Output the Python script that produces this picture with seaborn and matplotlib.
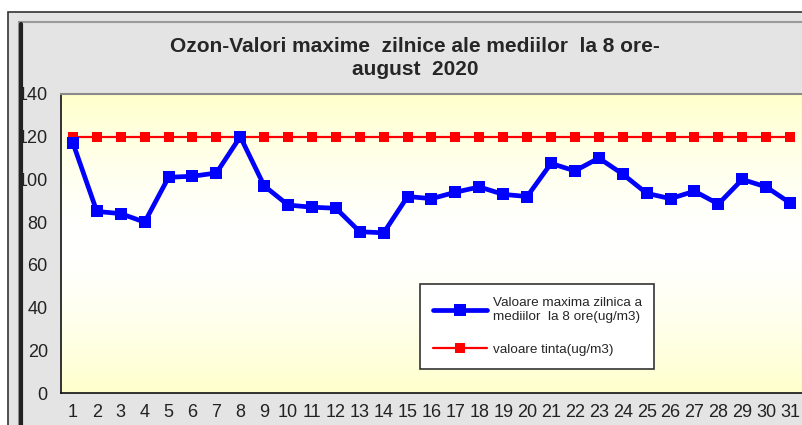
import numpy as np
import matplotlib
matplotlib.use("Agg")
import matplotlib.pyplot as plt
from matplotlib.patches import Rectangle
from matplotlib.lines import Line2D
import seaborn as sns

# data
days = list(range(1, 32))
ozon_max = [117, 85, 84, 80, 101, 101.5, 103, 120, 97, 88, 87, 86.5, 75.5, 75,
            92, 91, 94, 96.5, 93, 92, 107.5, 104, 110, 102.5, 93.5, 91, 94.5,
            88.5, 100, 96.5, 89]
valoare_tinta = [120] * 31

title = "Ozon-Valori maxime  zilnice ale mediilor  la 8 ore-\naugust  2020"
label_max = "Valoare maxima zilnica a\nmediilor  la 8 ore(ug/m3)"
label_tinta = "valoare tinta(ug/m3)"

sns.set_style("white")
plt.rcParams['font.family'] = ['Liberation Sans', 'DejaVu Sans']

W, H = 803, 425
fig = plt.figure(figsize=(W / 100, H / 100), dpi=100)
fig.patch.set_facecolor("white")

# chart frame (excel style)
def px(x, y, w, h):
    return (x / W, 1 - (y + h) / H, w / W, h / H)

x0, y0, w0, h0 = px(8, 12, 800, 420)
fig.patches.append(Rectangle((x0, y0), w0, h0, transform=fig.transFigure,
                             facecolor="#e4e4e4", edgecolor="#333333", lw=1.2, zorder=-10))
x1, y1, w1, h1 = px(19, 22, 790, 410)
fig.patches.append(Rectangle((x1, y1), w1, h1, transform=fig.transFigure,
                             facecolor="#e4e4e4", edgecolor="#9a9a9a", lw=1.5, zorder=-9))
fig.add_artist(Line2D([21 / W, 21 / W], [0, 1 - 24 / H], transform=fig.transFigure,
                      color="#222222", lw=3, zorder=-8))

fig.text(415 / W, 1 - 58 / H, title, ha="center", va="center", fontsize=15,
         fontweight="bold", linespacing=1.3)

ax = fig.add_axes([61 / W, 1 - 393 / H, 741 / W, 299 / H])

# pale yellow gradient background
grad = np.linspace(0, 1, 256)
alpha = np.abs(grad - 0.5) * 2
alpha = alpha ** 1.5
rgba = np.ones((256, 1, 4))
rgba[:, 0, 2] = 1 - 0.2 * alpha
ax.imshow(rgba, extent=[0, 1, 0, 1], transform=ax.transAxes, aspect="auto",
          zorder=0, interpolation="bilinear")

sns.lineplot(x=days, y=ozon_max, ax=ax, color="#0000ff", lw=3.4, marker="s",
             markersize=8.5, markeredgewidth=0, label=label_max, zorder=3)
sns.lineplot(x=days, y=valoare_tinta, ax=ax, color="#ff0000", lw=1.6, marker="s",
             markersize=7.5, markeredgewidth=0, label=label_tinta, zorder=2)

ax.set_xlim(0.5, 31.5)
ax.set_ylim(0, 140)
ax.set_yticks(range(0, 141, 20))
ax.set_xticks(days)
ax.set_xticks(np.arange(0.5, 32, 1), minor=True)
ax.tick_params(axis="x", which="major", length=0, labelsize=13, pad=8, colors="#222222")
ax.tick_params(axis="x", which="minor", length=5, width=1, direction="out", color="#222222")
ax.tick_params(axis="y", length=4.5, width=1, direction="out", labelsize=13,
               colors="#222222", pad=5)
ax.set_xlabel("")
ax.set_ylabel("")
for s in ["left", "bottom"]:
    ax.spines[s].set_color("#111111")
    ax.spines[s].set_linewidth(1.2)
ax.spines["top"].set_color("#8a8a8a")
ax.spines["top"].set_linewidth(1.5)
ax.spines["right"].set_color("#8a8a8a")

leg = ax.legend(loc="lower left", bbox_to_anchor=(0.4845, 0.08, 0.316, 0.30),
                mode="expand", borderaxespad=0, frameon=True, fancybox=False,
                fontsize=9.7, handlelength=4.0, borderpad=1.0, labelspacing=1.5,
                handletextpad=0.45)
leg.get_frame().set_edgecolor("#333333")
leg.get_frame().set_linewidth(1.2)
leg.get_frame().set_facecolor("white")
leg.get_frame().set_alpha(1)

fig.savefig("out.png", dpi=100, facecolor=fig.get_facecolor())
